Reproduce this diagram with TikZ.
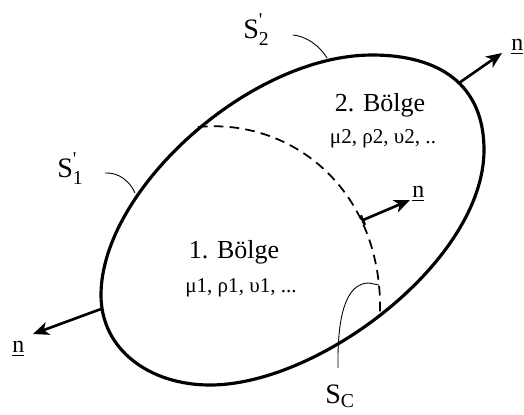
\documentclass[tikz,border=0pt]{standalone}
\usepackage{amsmath}
\usepackage{fontspec}
\setmainfont{Liberation Serif}
\usepackage{tikz}
\usetikzlibrary{arrows.meta, positioning}

\begin{document}
\begin{tikzpicture}[
  x=0.02cm, y=-0.02cm,
  boundary/.style={line width=1.8pt, line join=round},
  interface/.style={line width=1pt, dash pattern=on 5.5pt off 3.5pt},
  normal/.style={-{Stealth[length=9pt, width=7.5pt, inset=2.5pt]}, line width=1.5pt},
  leader/.style={line width=0.5pt},
  region/.style={font=\fontsize{14.8}{17}\selectfont, inner sep=0pt},
  props/.style={font=\fontsize{12}{14}\selectfont, inner sep=0pt},
  surf/.style={font=\fontsize{16}{19}\selectfont, inner sep=0pt},
  nvec/.style={font=\fontsize{13.6}{16}\selectfont, inner sep=0pt},
]
  \useasboundingbox (0,0) rectangle (524,414);

  % outer surface
  \draw[boundary] (101,295) .. controls (101,350) and (150,385) .. (210,385)
    .. controls (320,385) and (484,260) .. (484,150)
    .. controls (484,85) and (440,55) .. (372,55)
    .. controls (250,55) and (101,190) .. (101,295) -- cycle;

  % interface between the two regions
  \draw[interface] (198,127) .. controls (292,118) and (384,190) .. (380,316)
    coordinate[pos=0.71] (pMid);

  % points on the surfaces
  \coordinate (pTop) at (459,83);
  \coordinate (pLeft) at (101,309);
  \coordinate (tTop) at (502,53);
  \coordinate (tLeft) at (33,334);
  \coordinate (tMid) at (410,200);
  \coordinate (s1a) at (105,173);
  \coordinate (s1b) at (135,193);
  \coordinate (s2a) at (293,35);
  \coordinate (s2b) at (327,58);
  \coordinate (sca) at (338,368);
  \coordinate (scb) at (379,285);

  % labels
  \node[region, anchor=base] (b2) at (380,111) {2. Bölge};
  \node[props, anchor=base] (p2) at (383,143) {μ2, ρ2, υ2, ..};
  \node[region, anchor=base] (b1) at (234,258) {1. Bölge};
  \node[props, anchor=base] (p1) at (241,292) {μ1, ρ1, υ1, ...};
  \node[surf, anchor=base west] (s1) at (57,177) {S$^{\text{\textquotesingle}}_{\text{1}}$};
  \node[surf, anchor=base west] (s2) at (243,38) {S$^{\text{\textquotesingle}}_{\text{2}}$};
  \node[surf, anchor=base west] (sc) at (325,403) {S$_{\text{C}}$};
  \node[nvec, anchor=base west] (nTop) at (511,50) {\underline{n}};
  \node[nvec, anchor=base west] (nMid) at (412,197) {\underline{n}};
  \node[nvec, anchor=base west] (nLeft) at (12,352) {\underline{n}};

  % normals
  \draw[normal] (pTop) -- (tTop);
  \draw[normal] (pLeft) -- (tLeft);
  \draw[normal, {Bar[width=6pt]}-{Stealth[length=9pt, width=7.5pt, inset=2.5pt]}] (pMid) -- (tMid);

  % leaders
  \draw[leader] (s1a) .. controls (118,172) and (130,181) .. (s1b);
  \draw[leader] (s2a) .. controls (306,36) and (320,46) .. (s2b);
  \draw[leader] (sca) .. controls (337,305) and (350,283) .. (369,283) -- (scb);
\end{tikzpicture}
\end{document}
